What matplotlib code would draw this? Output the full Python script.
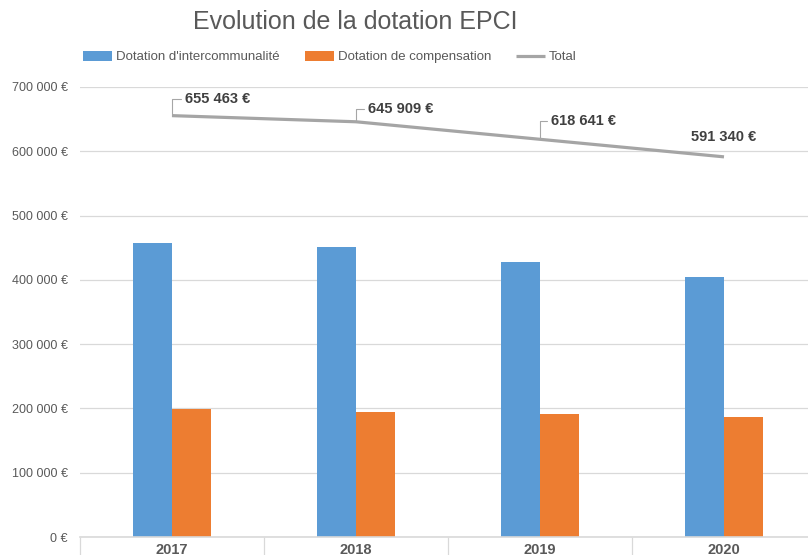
import matplotlib.pyplot as plt
import numpy as np
from matplotlib.ticker import FuncFormatter

plt.rcParams['font.family'] = ['Liberation Sans', 'DejaVu Sans']

# Data
years = ['2017', '2018', '2019', '2020']
intercommunalite = [457000, 451000, 428000, 404500]
compensation = [198463, 194909, 190641, 186840]
total = [655463, 645909, 618641, 591340]
total_labels = ['655 463 €', '645 909 €', '618 641 €', '591 340 €']

blue = '#5b9bd5'
orange = '#ed7d31'
grey = '#a5a5a5'
grid_col = '#d9d9d9'
text_col = '#595959'

fig = plt.figure(figsize=(8.08, 5.55), dpi=100)
ax = fig.add_axes([80 / 808, 18 / 555, 736 / 808, 450 / 555])

x = np.arange(len(years))
w = 0.212
b1 = ax.bar(x - w / 2, intercommunalite, w, color=blue, label="Dotation d'intercommunalité", zorder=2)
b2 = ax.bar(x + w / 2, compensation, w, color=orange, label='Dotation de compensation', zorder=2)
l1, = ax.plot(x, total, color=grey, lw=2.3, label='Total', zorder=3, solid_capstyle='butt')

# Data labels for the total line
offsets = [(9.5, 12), (8.5, 9), (8, 13), (0, 14)]
for i, (xi, yi) in enumerate(zip(x, total)):
    dx, dy = offsets[i]
    if i < 3:
        ax.annotate(total_labels[i], xy=(xi, yi), xytext=(dx, dy), textcoords='offset points',
                    ha='left', va='center', fontsize=10.5, fontweight='bold', color='#404040',
                    arrowprops=dict(arrowstyle='-', color='#a6a6a6', lw=0.8, shrinkA=1, shrinkB=0,
                                    relpos=(0, 0.5),
                                    connectionstyle='angle,angleA=0,angleB=90,rad=0'))
    else:
        ax.annotate(total_labels[i], xy=(xi, yi), xytext=(dx, dy), textcoords='offset points',
                    ha='center', va='center', fontsize=10.5, fontweight='bold', color='#404040')

ax.set_xlim(-0.5, 3.5)
ax.set_ylim(0, 700000)
ax.set_yticks(np.arange(0, 700001, 100000))
ax.yaxis.set_major_formatter(FuncFormatter(lambda v, p: f'{int(v):,} €'.replace(',', ' ')))
ax.grid(axis='y', color=grid_col, lw=0.9, zorder=0)
ax.set_axisbelow(True)

ax.set_xticks(x)
ax.set_xticklabels(years, fontweight='bold', fontsize=10.5, color=text_col)
ax.set_xticks(np.arange(-0.5, 4, 1), minor=True)
ax.tick_params(axis='x', which='major', length=0, pad=4)
ax.tick_params(axis='x', which='minor', length=14, color=grid_col, width=0.9)
ax.tick_params(axis='y', length=0, labelsize=9, labelcolor=text_col, pad=9)

for s in ['top', 'right', 'left']:
    ax.spines[s].set_visible(False)
ax.spines['bottom'].set_color(grid_col)
ax.spines['bottom'].set_linewidth(1.2)

fig.text(355 / 808, 1 - 22 / 555, 'Evolution de la dotation EPCI', ha='center', va='center',
         fontsize=18, color=text_col)
fig.legend(handles=[b1, b2, l1], loc='center', bbox_to_anchor=(330 / 808, 1 - 57 / 555), ncol=3,
           frameon=False, fontsize=9.5, labelcolor=text_col, handlelength=2.2, handleheight=0.8,
           columnspacing=1.9, handletextpad=0.3)

fig.savefig('out.png', dpi=100)
